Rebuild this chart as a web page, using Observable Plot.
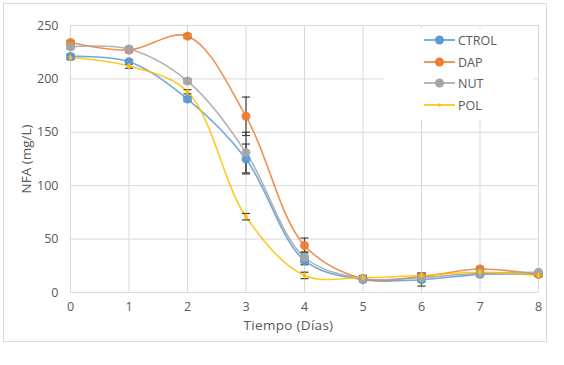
<!DOCTYPE html>
<html>
<head>
<meta charset="utf-8">
<script src="https://cdn.jsdelivr.net/npm/d3@7"></script>
<script src="https://cdn.jsdelivr.net/npm/@observablehq/plot@0.6"></script>
<style>
  body { margin: 0; background: #fff; }
  #wrap { position: relative; width: 564px; height: 365px; font-family: "Open Sans", sans-serif; }
  #frame { position: absolute; left: 3px; top: 3px; width: 544px; height: 339px; border: 1px solid #d9d9d9; box-sizing: border-box; pointer-events: none; }
  #chart { position: absolute; left: 0; top: 0; }
  #legend { position: absolute; left: 384px; top: 28px; width: 150px; height: 92px; background: #fff; }
  .row { position: absolute; left: 40px; height: 16px; display: flex; align-items: center; font-size: 12.5px; color: #595959; }
  .row svg { margin-right: 3px; }
</style>
</head>
<body>
<div id="wrap">
  <div id="chart"></div>
  <div id="legend"></div>
  <div id="frame"></div>
</div>
<script>
const days = [0, 1, 2, 3, 4, 5, 6, 7, 8];
const seriesNames = ["CTROL", "DAP", "NUT", "POL"];
const colors = ["#5B9BD5", "#ED7D31", "#A5A5A5", "#FFC000"];
const ctrol = [221, 216, 181, 125, 30, 12, 12, 17, 17];
const dap   = [234, 227, 240, 165, 44, 13, 15, 22, 17];
const nut   = [230, 228, 198, 131, 33, 13, 14, 18, 19];
const pol   = [220, 212, 188, 71, 16, 14, 16, 19, 16];
const ctrolErr = [2, 2, 2, 14, 4, 2, 6, 2, 1];
const dapErr   = [2, 2, 2, 18, 7, 2, 2, 2, 1];
const nutErr   = [2, 2, 2, 19, 5, 2, 4, 2, 1];
const polErr   = [2, 2, 2, 3, 3, 2, 2, 2, 1];
const yTicks = [0, 50, 100, 150, 200, 250];
const values = [ctrol, dap, nut, pol];
const errs = [ctrolErr, dapErr, nutErr, polErr];

const data = [];
seriesNames.forEach((s, i) => {
  days.forEach((d, j) => {
    data.push({series: s, day: d, value: values[i][j], err: errs[i][j]});
  });
});

const capSymbol = {
  draw(ctx, size) {
    const w = Math.sqrt(size / Math.PI);
    ctx.moveTo(-w, 0);
    ctx.lineTo(w, 0);
  }
};

const colorScale = {domain: seriesNames, range: colors};
const bigDots = data.filter(d => d.series !== "POL");
const polDots = data.filter(d => d.series === "POL");

const chart = Plot.plot({
  width: 564,
  height: 365,
  marginLeft: 70,
  marginRight: 26,
  marginTop: 25,
  marginBottom: 73,
  style: {fontFamily: "'Open Sans', sans-serif", fontSize: "12px", color: "#595959", background: "transparent"},
  x: {domain: [0, 8]},
  y: {domain: [0, 250]},
  color: colorScale,
  marks: [
    Plot.gridY({ticks: yTicks, stroke: "#d9d9d9", strokeOpacity: 1}),
    Plot.gridX({ticks: days, stroke: "#d9d9d9", strokeOpacity: 1}),
    Plot.axisY({ticks: yTicks, tickSize: 0, tickPadding: 12, fontSize: 12.5, label: null}),
    Plot.axisX({ticks: days, tickSize: 0, tickPadding: 10, fontSize: 12.5, label: null}),
    Plot.axisY({ticks: [], tickSize: 0, fontSize: 13.5, label: "NFA (mg/L)", labelAnchor: "center", labelArrow: "none", labelOffset: 49}),
    Plot.axisX({ticks: [], tickSize: 0, fontSize: 13.5, label: "Tiempo (Días)", labelAnchor: "center", labelArrow: "none", labelOffset: 37}),
    Plot.line(data, {x: "day", y: "value", z: "series", stroke: "series", curve: "catmull-rom", strokeWidth: 1.6, strokeOpacity: 0.85}),
    Plot.ruleX(data, {x: "day", y1: d => d.value - d.err, y2: d => d.value + d.err, stroke: "#404040", strokeWidth: 1.2}),
    Plot.dot(data, {x: "day", y: d => d.value + d.err, symbol: capSymbol, r: 4, stroke: "#404040", strokeWidth: 1.2}),
    Plot.dot(data, {x: "day", y: d => d.value - d.err, symbol: capSymbol, r: 4, stroke: "#404040", strokeWidth: 1.2}),
    Plot.dot(bigDots, {x: "day", y: "value", fill: "series", r: 4.5, fillOpacity: 0.95}),
    Plot.dot(polDots, {x: "day", y: "value", fill: "series", r: 2.2, symbol: "diamond"})
  ]
});
chart.querySelectorAll("text").forEach(t => {
  if (t.textContent === "Tiempo (Días)") {
    t.setAttribute("letter-spacing", "0.3");
    t.setAttribute("dx", "-16");
  }
});
document.getElementById("chart").appendChild(chart);

const legend = document.getElementById("legend");
const rowTops = [4, 26, 47, 69];
seriesNames.forEach((s, i) => {
  const row = document.createElement("div");
  row.className = "row";
  row.style.top = rowTops[i] + "px";
  const r = s === "POL" ? 1.8 : 4.5;
  row.innerHTML = `<svg width="31" height="12"><line x1="0" y1="6" x2="31" y2="6" stroke="${colors[i]}" stroke-width="1.6"/><circle cx="15.5" cy="6" r="${r}" fill="${colors[i]}"/></svg><span>${s}</span>`;
  legend.appendChild(row);
});
</script>
</body>
</html>
